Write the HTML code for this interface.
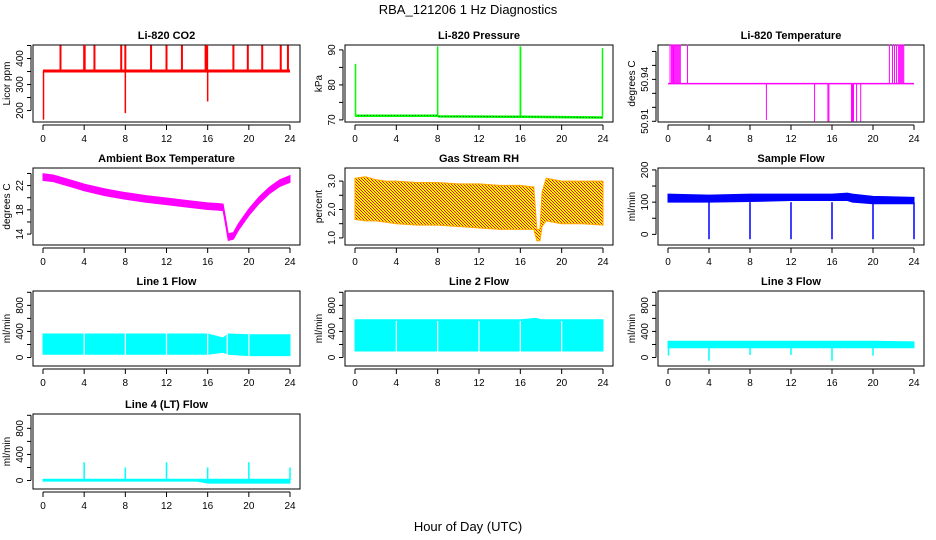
<!DOCTYPE html>
<html><head><meta charset="utf-8"><style>
html,body{margin:0;padding:0;background:#fff;}
svg{display:block;font-family:"Liberation Sans",sans-serif;}
</style></head><body>
<svg id="chart" width="936" height="540" viewBox="0 0 936 540">
<defs>
<pattern id="rhpat" width="3" height="3" patternUnits="userSpaceOnUse">
<rect width="3" height="3" fill="#ffff00"/><rect width="1" height="1" fill="#ff0000"/><rect x="1" y="1" width="1" height="1" fill="#ff0000"/><rect x="2" y="2" width="1" height="1" fill="#ff0000"/>
</pattern>
</defs>
<text x="468" y="14" text-anchor="middle" font-size="13">RBA_121206  1 Hz Diagnostics</text>
<text x="468" y="531" text-anchor="middle" font-size="13">Hour of Day (UTC)</text>
</svg>
<script>
// ---- data ----
const xTicks = [0,4,8,12,16,20,24];
// CO2
const co2Base = 352;
const co2SpikeHours = [1.7,4,4.05,5,7.6,8,10.5,12,13.5,15.8,15.95,18.5,19.9,21.3,23.1,23.8];
const co2SpikeVals  = [450,450,452,450,450,450,450,450,450,450,452,450,450,450,450,450];
const co2DipHours = [0.05,8.0,16.0];
const co2DipVals  = [165,190,235];
// Pressure
const presHours = [0,0.1,8,8.1,16,16.1,23.9,24];
const presVals  = [71.3,71.2,71.2,71.0,70.9,70.9,70.7,70.7];
const presSpikeHours = [0.05,8.0,16.0,16.02,23.95];
const presSpikeVals  = [86,91,91,91,90.5];
// Li-820 temperature
const tBase = 50.937;
const tUpHours = [0.2,0.35,0.45,0.5,0.55,0.6,0.7,0.8,0.9,1.0,1.1,1.2,1.9,21.6,21.9,22.1,22.3,22.5,22.6,22.7,22.8,22.9,23.0];
const tUpVals = tUpHours.map(()=>50.965);
const tDownHours = [9.6,14.3,15.6,15.7,17.9,18.0,18.1,18.4,18.8];
const tDownVals  = [50.911,50.91,50.91,50.91,50.91,50.91,50.91,50.91,50.91];
// Ambient box temp
const ambHours = [0,1,2,3,4,6,8,10,12,14,16,17,17.5,17.7,18,18.5,19,20,21,22,23,24];
const ambVals  = [23.4,23.2,22.7,22.2,21.7,20.9,20.3,19.8,19.4,19.0,18.6,18.5,18.4,16.5,13.5,13.7,15.2,17.6,19.6,21.2,22.4,23.1];
// RH
const rhHours = [0,1,2,3,4,6,8,10,12,14,16,17,17.3,17.6,17.9,18.1,18.5,20,22,24];
const rhLo = [1.65,1.6,1.6,1.55,1.5,1.45,1.45,1.4,1.35,1.3,1.3,1.3,1.3,0.9,0.9,1.4,1.6,1.5,1.5,1.45];
const rhHi = [3.1,3.15,3.05,3.0,3.0,2.95,2.95,2.9,2.9,2.85,2.85,2.8,2.8,1.3,1.3,2.6,3.1,3.0,3.0,3.0];
// Sample flow
const sfHours = [0,4,8,12,16,17.5,18,20,24];
const sfLo = [100,100,102,105,105,105,100,95,95];
const sfHi = [125,122,125,125,125,128,125,118,115];
const sfDipHours = [4,8,12,16,20,24];
const sfDipVals  = [-15,-15,-15,-15,-15,-15];
// Line flows
const l1Hours = [0,4,8,12,16,17.5,18,20,24];
const l1Lo = [50,50,50,50,50,80,50,30,30];
const l1Hi = [360,360,360,360,360,300,360,350,350];
const l1GapHours = [4,8,12,16,17.9,20];
const l2Hours = [0,4,8,12,16,17.5,18,20,24];
const l2Lo = [100,100,100,100,100,100,100,100,100];
const l2Hi = [580,580,580,580,580,600,580,580,580];
const l2GapHours = [4,8,12,16,20];
const l3Hours = [0,4,8,12,16,20,24];
const l3Lo = [150,150,150,150,150,150,150];
const l3Hi = [250,250,250,250,250,250,240];
const l3DipHours = [0.05,4,8,12,16,20];
const l3DipVals  = [30,-50,40,40,-50,30];
const l4Hours = [0,15,16,24];
const l4Lo = [-10,-10,-40,-40];
const l4Hi = [20,20,20,20];
const l4SpikeHours = [4,8,12,16,20,24];
const l4SpikeVals  = [280,200,280,200,280,200];

// ---- layout ----
const svg = document.getElementById('chart');
const NS = 'http://www.w3.org/2000/svg';
const cols = [[43,290],[355,603],[668,914]];
const rows = [[45,122],[168,245],[291,366],[414,489]];
function el(tag, attrs, parent){
  const e = document.createElementNS(NS, tag);
  for (const k in attrs) e.setAttribute(k, attrs[k]);
  (parent||svg).appendChild(e);
  return e;
}
function panel(c, r, name, title, ylab, ylim, yt, ylabs){
  const g = el('g', {});
  
  
  const [x0,x24] = cols[c], [top,bot] = rows[r];
  const left = x0-10, right = x24+10;
  const sx = h => x0 + (x24-x0)*h/24;
  const sy = v => bot - (bot-top)*(v-ylim[0])/(ylim[1]-ylim[0]);
  const box = el('rect', {x:left, y:top, width:right-left, height:bot-top, fill:'none', stroke:'#000', 'stroke-width':1}, g);
  
  
  const t = el('text', {x:(left+right)/2, y:top-6, 'text-anchor':'middle', 'font-size':11, 'font-weight':'bold'}, g);
  t.textContent = title;
  
  
  const ay = bot+3;
  el('line', {x1:sx(0), x2:sx(24), y1:ay, y2:ay, stroke:'#000'}, g);
  xTicks.forEach(h=>{
    el('line', {x1:sx(h), x2:sx(h), y1:ay, y2:ay+5, stroke:'#000'}, g);
    const tl = el('text', {x:sx(h), y:ay+17, 'text-anchor':'middle', 'font-size':10}, g);
    tl.textContent = h;
    
    
  });
  const ax = left-2;
  el('line', {x1:ax, x2:ax, y1:sy(yt[0]), y2:sy(yt[yt.length-1]), stroke:'#000'}, g);
  yt.forEach(v=>{
    el('line', {x1:ax, x2:ax-4, y1:sy(v), y2:sy(v), stroke:'#000'}, g);
  });
  ylabs.forEach(v=>{
    const tl = el('text', {x:0, y:0, 'text-anchor':'middle', 'font-size':10, transform:`translate(${ax-8},${sy(v)}) rotate(-90)`}, g);
    tl.textContent = v;
    
    
  });
  const yl = el('text', {x:0, y:0, 'text-anchor':'middle', 'font-size':10, transform:`translate(${left-23},${(top+bot)/2}) rotate(-90)`}, g);
  yl.textContent = ylab;
  
  
  return {g, sx, sy};
}
function band(p, hours, lo, hi, fill, name){
  let d = 'M' + hours.map((h,i)=>p.sx(h)+','+p.sy(hi[i])).join('L');
  for (let i=hours.length-1;i>=0;i--) d += 'L'+p.sx(hours[i])+','+p.sy(lo[i]);
  const e = el('path', {d:d+'Z', fill:fill, stroke:fill==='url(#rhpat)'?'#ffa500':fill, 'stroke-width':1}, p.g);
  
  
}
function spikes(p, hours, vals, base, color, name, w){
  hours.forEach((h,i)=>{
    const e = el('line', {x1:p.sx(h), x2:p.sx(h), y1:p.sy(base), y2:p.sy(vals[i]), stroke:color, 'stroke-width':w||1.5}, p.g);
    
    
  });
}
function gaps(p, hours, lo, hi, name){
  hours.forEach(h=>{
    const e = el('line', {x1:p.sx(h), x2:p.sx(h), y1:p.sy(lo), y2:p.sy(hi), stroke:'#fff', 'stroke-width':1.2}, p.g);
    
    
  });
}
function baseLine(p, v, color, w, name){
  const e = el('line', {x1:p.sx(0), x2:p.sx(24), y1:p.sy(v), y2:p.sy(v), stroke:color, 'stroke-width':w}, p.g);
  
  
}

let p = panel(0,0,'co2-panel','Li-820 CO2','Licor ppm',[156,452],[200,250,300,350,400,450],[200,300,400]);
baseLine(p, co2Base, '#ff0000', 3, 'co2-series');
spikes(p, co2SpikeHours, co2SpikeVals, co2Base, '#ff0000', 'co2-spike', 2);
spikes(p, co2DipHours, co2DipVals, co2Base, '#ff0000', 'co2-dip', 1.5);
p = panel(1,0,'pressure-panel','Li-820 Pressure','kPa',[69.4,91.4],[70,75,80,85,90],[70,80,90]);
{
  const e = el('polyline', {points: presHours.map((h,i)=>p.sx(h)+','+p.sy(presVals[i])).join(' '), fill:'none', stroke:'#00ff00', 'stroke-width':2.5}, p.g);
  
  
  const e2 = el('polyline', {points: presHours.map((h,i)=>p.sx(h)+','+p.sy(presVals[i])).join(' '), fill:'none', stroke:'#000', 'stroke-width':0.7, 'stroke-dasharray':'1 2'}, p.g);
  
  
}
spikes(p, presSpikeHours, presSpikeVals, 71, '#00ff00', 'pressure-spike', 1.5);
p = panel(2,0,'licor-temp-panel','Li-820 Temperature','degrees C',[50.9095,50.9646],[50.91,50.92,50.93,50.94,50.95,50.96],[50.91,50.94]);
baseLine(p, tBase, '#ff00ff', 1.5, 'licor-temp-series');
spikes(p, tUpHours, tUpVals, tBase, '#ff00ff', 'licor-temp-spike', 1);
spikes(p, tDownHours, tDownVals, tBase, '#ff00ff', 'licor-temp-dip', 1);
p = panel(0,1,'ambient-temp-panel','Ambient Box Temperature','degrees C',[12.2,24.9],[14,16,18,20,22,24],[14,18,22]);
band(p, ambHours, ambVals.map(v=>v-0.55), ambVals.map(v=>v+0.55), '#ff00ff', 'ambient-temp-series');
p = panel(1,1,'rh-panel','Gas Stream RH','percent',[0.75,3.46],[1.0,1.5,2.0,2.5,3.0],['1.0','2.0','3.0']);
band(p, rhHours, rhLo, rhHi, 'url(#rhpat)', 'rh-series');
p = panel(2,1,'sample-flow-panel','Sample Flow','ml/min',[-33,206],[0,50,100,150,200],[0,100,200]);
band(p, sfHours, sfLo, sfHi, '#0000ff', 'sample-flow-series');
spikes(p, sfDipHours, sfDipVals, 100, '#0000ff', 'sample-flow-dip', 1.5);
p = panel(0,2,'line1-panel','Line 1 Flow','ml/min',[-130,1020],[0,200,400,600,800,1000],[0,400,800]);
band(p, l1Hours, l1Lo, l1Hi, '#00ffff', 'line1-series');
gaps(p, l1GapHours, 0, 380, 'line1-gap');
p = panel(1,2,'line2-panel','Line 2 Flow','ml/min',[-130,1020],[0,200,400,600,800,1000],[0,400,800]);
band(p, l2Hours, l2Lo, l2Hi, '#00ffff', 'line2-series');
gaps(p, l2GapHours, 80, 560, 'line2-gap');
p = panel(2,2,'line3-panel','Line 3 Flow','ml/min',[-130,1020],[0,200,400,600,800,1000],[0,400,800]);
band(p, l3Hours, l3Lo, l3Hi, '#00ffff', 'line3-series');
spikes(p, l3DipHours, l3DipVals, 150, '#00ffff', 'line3-dip', 1.5);
p = panel(0,3,'line4-panel','Line 4 (LT) Flow','ml/min',[-130,1020],[0,200,400,600,800,1000],[0,400,800]);
band(p, l4Hours, l4Lo, l4Hi, '#00ffff', 'line4-series');
spikes(p, l4SpikeHours, l4SpikeVals, 10, '#00ffff', 'line4-spike', 1.5);
</script>
</body></html>
